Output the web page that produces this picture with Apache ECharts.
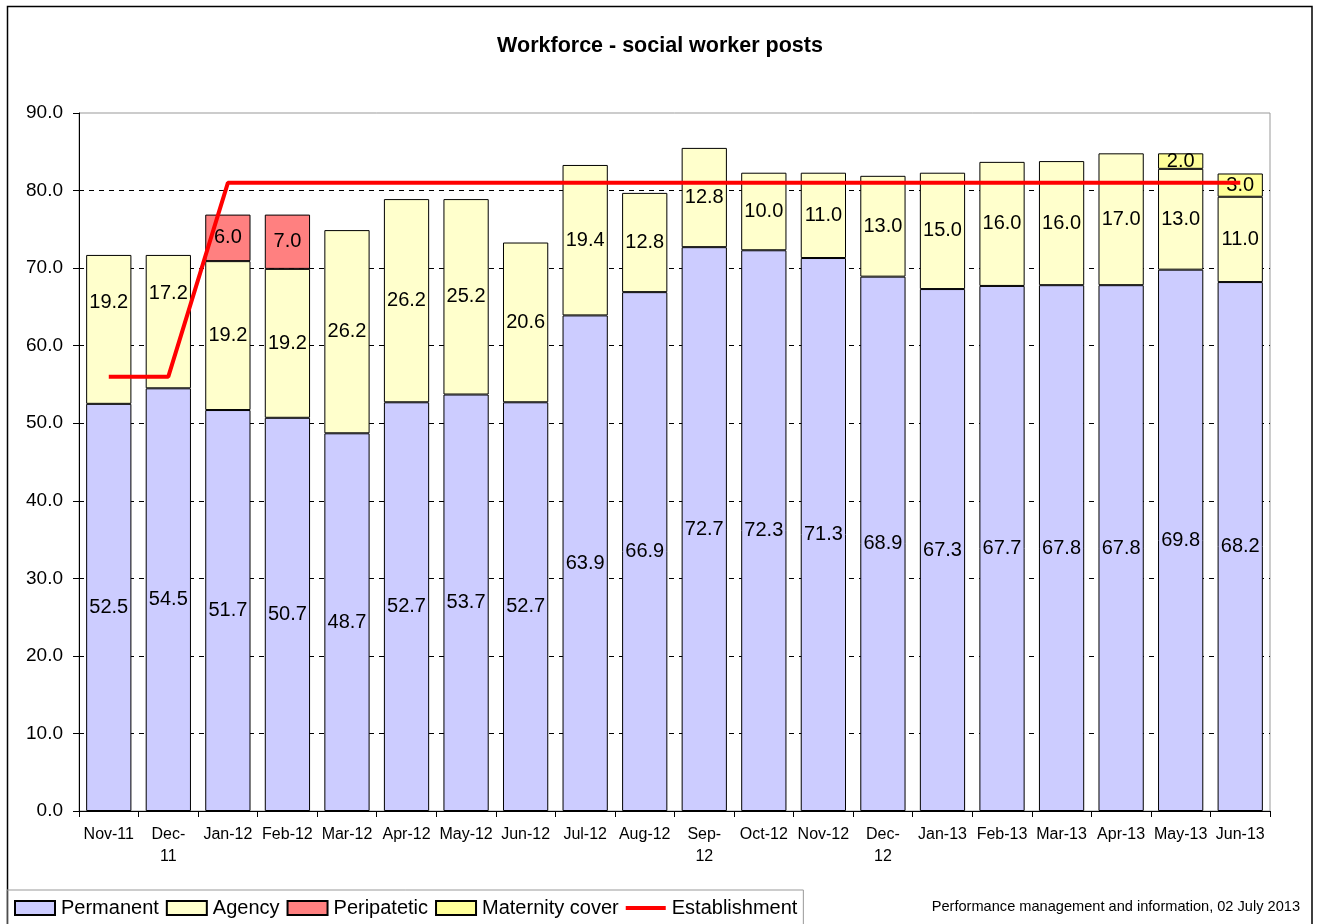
<!DOCTYPE html>
<html>
<head>
<meta charset="utf-8">
<script src="https://cdn.jsdelivr.net/npm/echarts@6/dist/echarts.min.js"></script>
<style>
  html, body { margin: 0; padding: 0; background: #fff; }
  #chart { width: 1320px; height: 924px; }
</style>
</head>
<body>
<div id="chart"></div>
<script>
var months = ["Nov-11", "Dec-\n11", "Jan-12", "Feb-12", "Mar-12", "Apr-12", "May-12", "Jun-12", "Jul-12", "Aug-12",
  "Sep-\n12", "Oct-12", "Nov-12", "Dec-\n12", "Jan-13", "Feb-13", "Mar-13", "Apr-13", "May-13", "Jun-13"];
var permanent = [52.5, 54.5, 51.7, 50.7, 48.7, 52.7, 53.7, 52.7, 63.9, 66.9, 72.7, 72.3, 71.3, 68.9, 67.3, 67.7, 67.8, 67.8, 69.8, 68.2];
var agency = [19.2, 17.2, 19.2, 19.2, 26.2, 26.2, 25.2, 20.6, 19.4, 12.8, 12.8, 10.0, 11.0, 13.0, 15.0, 16.0, 16.0, 17.0, 13.0, 11.0];
var peripatetic = [null, null, 6.0, 7.0, null, null, null, null, null, null, null, null, null, null, null, null, null, null, null, null];
var maternity = [null, null, null, null, null, null, null, null, null, null, null, null, null, null, null, null, null, null, 2.0, 3.0];
var establishment = [56, 56, 81, 81, 81, 81, 81, 81, 81, 81, 81, 81, 81, 81, 81, 81, 81, 81, 81, 81];

// agency labels moved up clear of the establishment line (first two months)
var agencyLabelShift = { 0: -27, 1: -28 };

var font = "Liberation Sans, Arial, sans-serif";

var chart = echarts.init(document.getElementById("chart"));

function barSeries(name, data, color, shifts) {
  return {
    name: name,
    type: "bar",
    stack: "posts",
    data: data.map(function (v, i) {
      if (shifts && shifts[i] != null) {
        return { value: v, label: { offset: [0, shifts[i]] } };
      }
      return v;
    }),
    barCategoryGap: "24%",
    itemStyle: { color: color, borderColor: "#000", borderWidth: 1 },
    label: {
      show: true,
      position: "inside",
      color: "#000",
      fontFamily: font,
      fontSize: 20,
      formatter: function (p) {
        return p.value == null ? "" : Number(p.value).toFixed(1);
      },
    },
    emphasis: { disabled: true },
  };
}

chart.setOption({
  animation: false,
  title: {
    text: "Workforce - social worker posts",
    left: "center",
    top: 30,
    textStyle: { fontFamily: font, fontSize: 21.5, fontWeight: "bold", color: "#000" },
  },
  legend: {
    left: 7,
    top: 890,
    padding: [8, 6, 8, 7],
    itemGap: 7,
    itemWidth: 40,
    itemHeight: 14,
    borderColor: "#999",
    borderWidth: 1,
    textStyle: { fontFamily: font, fontSize: 20, color: "#000", padding: [0, 0, 0, 1] },
    data: [
      { name: "Permanent", icon: "rect" },
      { name: "Agency", icon: "rect" },
      { name: "Peripatetic", icon: "rect" },
      { name: "Maternity cover", icon: "rect" },
      { name: "Establishment", icon: "path://M0,0 H40 V4 H0 Z", itemStyle: { color: "#ff0000", borderWidth: 0 } },
    ],
  },
  grid: {
    left: 79,
    right: 50,
    top: 113,
    bottom: 113,
    show: true,
    borderColor: "#999",
    borderWidth: 1,
  },
  xAxis: {
    type: "category",
    data: months,
    axisLine: { lineStyle: { color: "#000", width: 1 } },
    axisTick: { show: true, length: 6, lineStyle: { color: "#000" } },
    axisLabel: {
      interval: 0,
      margin: 13,
      color: "#000",
      fontFamily: font,
      fontSize: 16,
      lineHeight: 22,
    },
  },
  yAxis: {
    type: "value",
    min: 0,
    max: 90,
    interval: 10,
    axisLine: { show: true, lineStyle: { color: "#000", width: 1 } },
    axisTick: { show: true, length: 6, lineStyle: { color: "#000" } },
    axisLabel: {
      margin: 16,
      color: "#000",
      fontFamily: font,
      fontSize: 19,
      formatter: function (v) { return v.toFixed(1); },
    },
    splitLine: {
      show: true,
      showMinLine: false,
      showMaxLine: false,
      lineStyle: { color: "#000", width: 1, type: [5, 5] },
    },
  },
  series: [
    barSeries("Permanent", permanent, "#ccccff"),
    barSeries("Agency", agency, "#ffffcc", agencyLabelShift),
    barSeries("Peripatetic", peripatetic, "#ff8080"),
    barSeries("Maternity cover", maternity, "#ffff99"),
    {
      name: "Establishment",
      type: "line",
      data: establishment,
      symbol: "none",
      z: 5,
      lineStyle: { color: "#ff0000", width: 4 },
      itemStyle: { color: "#ff0000" },
      emphasis: { disabled: true },
    },
  ],
  graphic: [
    {
      type: "rect",
      shape: { x: 7.5, y: 6.5, width: 1304.5, height: 930 },
      style: { fill: "none", stroke: "#000", lineWidth: 1.5 },
      silent: true,
    },
    {
      type: "text",
      right: 20,
      top: 899,
      style: {
        text: "Performance management and information, 02 July 2013",
        font: "14.6px " + font,
        fill: "#000",
      },
      silent: true,
    },
  ],
});
</script>
</body>
</html>
